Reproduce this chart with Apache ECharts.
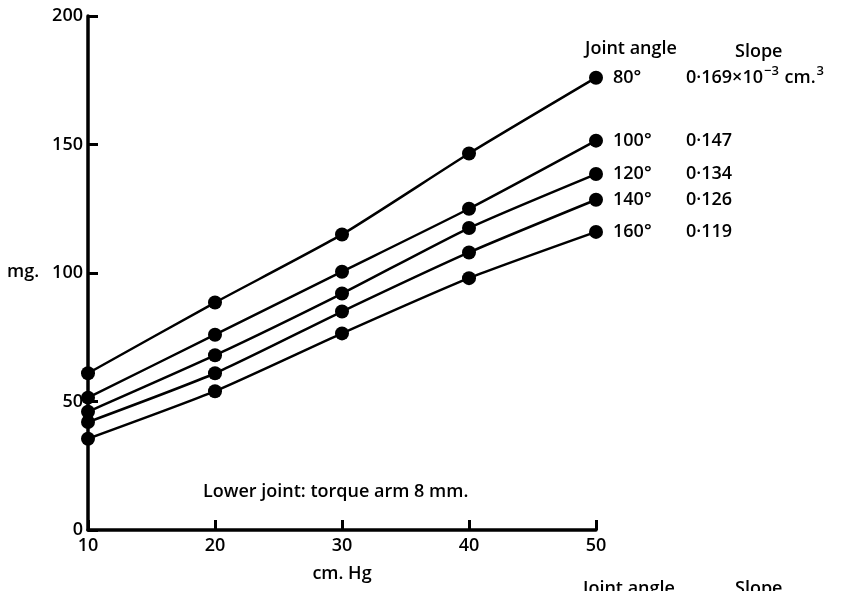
<!DOCTYPE html>
<html>
<head>
<meta charset="utf-8">
<script src="https://cdn.jsdelivr.net/npm/echarts@6/dist/echarts.min.js"></script>
<style>
	html, body {margin: 0; padding: 0; background: #fff;}
	#chart {width: 842px; height: 591px;}
</style>
</head>
<body>
<div id="chart"></div>
<script>
var pressures = [10, 20, 30, 40, 50];
var angles = ['80°', '100°', '120°', '140°', '160°'];
var slopes = ['0·169×10{sup|−3} cm.{sup|3}', '0·147', '0·134', '0·126', '0·119'];
var mg_80 = [61, 88.5, 115, 146.5, 176];
var mg_100 = [51.5, 76, 100.5, 125, 151.5];
var mg_120 = [46, 68, 92, 117.5, 138.5];
var mg_140 = [42, 61, 85, 108, 128.5];
var mg_160 = [35.5, 54, 76.5, 98, 116];
var y_ticks = [0, 50, 100, 150, 200];

var font = '"Open Sans", Lato, sans-serif';
var txt = {fontSize: 18, fontWeight: 600, fontFamily: font, color: '#000'};
var gfont = '600 18px ' + font;

function make_series(values, k){
	var data = values.map(function(v, i){
		var item = {value: [pressures[i], v]};
		if (i == values.length - 1){
			item.label = {
				show: true, position: 'right', distance: 10,
				formatter: '{a|' + angles[k] + '}{s|' + slopes[k].replace(/\{sup\|([^}]*)\}/g, '}{sup|$1}{s|') + '}',
				rich: {
					a: Object.assign({width: 73, lineHeight: 26}, txt),
					s: Object.assign({lineHeight: 26}, txt),
					sup: Object.assign({}, txt, {fontSize: 13, lineHeight: 14, verticalAlign: 'top', padding: [0, 1, 0, 1]})
				}
			};
		}
		return item;
	});
	return {
		type: 'line', data: data, smooth: 0.2,
		symbol: 'circle', symbolSize: 14,
		itemStyle: {color: '#000'},
		lineStyle: {color: '#000', width: 2.5},
		label: {show: false},
		z: 3
	};
}

var myChart = echarts.init(document.getElementById('chart'));

var options = {
	animation: false,
	grid: {left: 88, right: 246, top: 16, bottom: 61},
	xAxis: {
		type: 'value', min: 10, max: 50, interval: 10,
		name: 'cm. Hg', nameLocation: 'middle', nameGap: 35,
		nameTextStyle: txt,
		axisLine: {lineStyle: {color: '#000', width: 3.5}},
		axisTick: {inside: true, length: 10, lineStyle: {color: '#000', width: 3}},
		axisLabel: Object.assign({margin: 7}, txt),
		splitLine: {show: false}
	},
	yAxis: {
		type: 'value', min: 0, max: 200, interval: 50,
		axisLine: {show: true, lineStyle: {color: '#000', width: 3.5}},
		axisTick: {show: true, inside: true, length: 10, lineStyle: {color: '#000', width: 3}},
		axisLabel: Object.assign({
			margin: 5,
			formatter: function(v){ return y_ticks.indexOf(v) >= 0 ? String(v) : ''; }
		}, txt),
		splitLine: {show: false}
	},
	graphic: [
		{type: 'text', left: 7, top: 263, style: {text: 'mg.', font: gfont, fill: '#000'}},
		{type: 'text', left: 585, top: 40, style: {text: 'Joint angle', font: gfont, fill: '#000'}},
		{type: 'text', left: 735, top: 43, style: {text: 'Slope', font: gfont, fill: '#000'}},
		{type: 'text', left: 203, top: 483, style: {text: 'Lower joint: torque arm 8 mm.', font: gfont, fill: '#000'}},
		{type: 'text', left: 583, top: 580, style: {text: 'Joint angle', font: gfont, fill: '#000'}},
		{type: 'text', left: 735, top: 580, style: {text: 'Slope', font: gfont, fill: '#000'}}
	],
	series: [
		make_series(mg_80, 0),
		make_series(mg_100, 1),
		make_series(mg_120, 2),
		make_series(mg_140, 3),
		make_series(mg_160, 4)
	]
};

myChart.setOption((options), true);
</script>
</body>
</html>
